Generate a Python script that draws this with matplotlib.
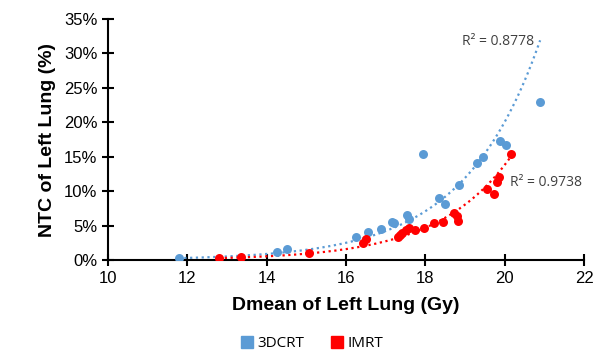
import numpy as np
import matplotlib
matplotlib.use("Agg")
import matplotlib.pyplot as plt
from matplotlib.ticker import FuncFormatter
from matplotlib.lines import Line2D

plt.rcParams['font.family'] = ['Liberation Sans', 'DejaVu Sans']

# 3DCRT data (Dmean Gy, NTC %)
crt_x = [11.78, 14.27, 14.52, 16.24, 16.55, 16.88, 17.16, 17.22, 17.54, 17.59,
         17.94, 18.33, 18.50, 18.85, 19.31, 19.44, 19.88, 20.02, 20.89]
crt_y = [0.34, 1.2, 1.55, 3.3, 4.1, 4.5, 5.5, 5.4, 6.5, 6.0,
         15.4, 9.0, 8.1, 10.9, 14.1, 14.9, 17.3, 16.7, 22.9]

# IMRT data
imrt_x = [12.80, 13.35, 15.07, 16.42, 16.50, 17.30, 17.36, 17.42, 17.52, 17.59,
          17.74, 17.97, 18.22, 18.45, 18.73, 18.79, 18.81, 19.54, 19.73, 19.80,
          19.86, 20.15]
imrt_y = [0.33, 0.48, 1.06, 2.5, 3.0, 3.4, 3.6, 3.9, 4.3, 4.6,
          4.3, 4.7, 5.4, 5.6, 6.8, 6.4, 5.7, 10.3, 9.6, 11.4,
          12.0, 15.35]

# exponential trendlines y = A*exp(b*x) (growth rate, value at last x)
crt_trend_b, crt_trend_end = 0.52, 31.9
imrt_trend_b, imrt_trend_end = 0.54, 15.0

r2_labels = ["R\u00b2 = 0.8778", "R\u00b2 = 0.9738"]
series_names = ["3DCRT", "IMRT"]
x_ticks = [10, 12, 14, 16, 18, 20, 22]
y_ticks = [0, 5, 10, 15, 20, 25, 30, 35]

blue = "#5B9BD5"
red = "#FF0000"

fig = plt.figure(figsize=(6.06, 3.51), dpi=100)
ax = fig.add_axes([0.178, 0.259, 0.786, 0.687])

def exp_trend(x, b, yend):
    x = np.asarray(x)
    xs = np.linspace(x.min(), x.max(), 200)
    A = yend / np.exp(b * x.max())
    return xs, A * np.exp(b * xs)

for xs_, b_, e_, c in [(crt_x, crt_trend_b, crt_trend_end, blue),
                       (imrt_x, imrt_trend_b, imrt_trend_end, red)]:
    fx, fy = exp_trend(xs_, b_, e_)
    ax.plot(fx, fy, linestyle=(0, (1, 1.6)), color=c, lw=1.6, zorder=2)

ax.scatter(crt_x, crt_y, s=42, color=blue, zorder=3, linewidths=0)
ax.scatter(imrt_x, imrt_y, s=42, color=red, zorder=3, linewidths=0)

ax.text(20.75, 31.8, r2_labels[0], fontsize=10, color="#404040", ha="right", va="center",
        family="Open Sans")
ax.text(20.12, 11.3, r2_labels[1], fontsize=10, color="#404040", ha="left", va="center",
        family="Open Sans")

ax.set_xlim(10, 22)
ax.set_ylim(0, 35)
ax.set_xticks(x_ticks)
ax.set_yticks(y_ticks)
ax.yaxis.set_major_formatter(FuncFormatter(lambda v, p: f"{int(v)}%"))
ax.tick_params(direction='inout', length=8, width=1.5, labelsize=12, colors='black')
for s in ['top', 'right']:
    ax.spines[s].set_visible(False)
for s in ['left', 'bottom']:
    ax.spines[s].set_linewidth(1.5)

ax.set_xlabel("Dmean of Left Lung (Gy)", fontsize=14, fontweight='bold', labelpad=8)
ax.set_ylabel("NTC of Left Lung (%)", fontsize=14, fontweight='bold', labelpad=6)

handles = [Line2D([], [], marker='s', color=blue, linestyle='None', markersize=8),
           Line2D([], [], marker='s', color=red, linestyle='None', markersize=8)]
fig.legend(handles, series_names, loc='center', bbox_to_anchor=(0.515, 0.02), ncol=2,
           frameon=False, handletextpad=0.3, columnspacing=1.7, handlelength=0.8,
           prop={'family': 'Open Sans', 'size': 11})

fig.savefig("out.png", dpi=100)
